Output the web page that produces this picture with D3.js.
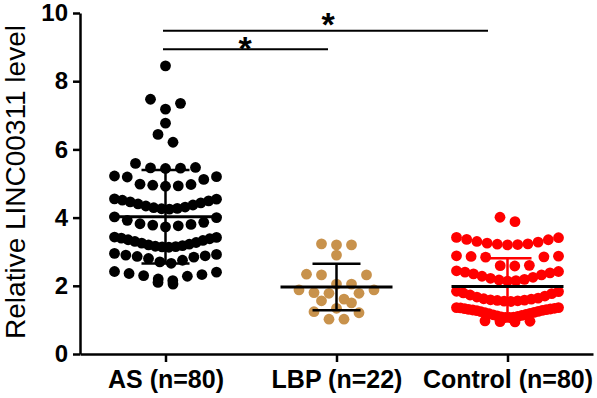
<!DOCTYPE html>
<html>
<head>
<meta charset="utf-8">
<script src="https://cdn.jsdelivr.net/npm/d3@7"></script>
<style>
  body { margin: 0; background: #fff; }
  svg { display: block; font-family: Arial, "Liberation Sans", sans-serif; }
</style>
</head>
<body>
<div id="chart"></div>
<script>
var groups = ["AS (n=80)", "LBP (n=22)", "Control (n=80)"];
var colors = ["#000000", "#c8924c", "#ff0000"];
var barColors = ["#000000", "#000000", "#ff0000"];
var yTicks = [0, 2, 4, 6, 8, 10];

var asValues = [8.45,
    7.47, 7.35, 7.18,
    6.77,
    6.44, 6.21,
    5.59, 5.47, 5.46, 5.45, 5.44,
    5.22, 5.20, 5.19, 5.12, 4.98, 4.97, 4.95, 4.93, 4.92,
    4.55, 4.54, 4.51, 4.49, 4.46, 4.43, 4.40, 4.37, 4.34, 4.31, 4.29, 4.27, 4.26, 4.25,
    4.02, 4.00, 3.92, 3.86, 3.82, 3.80, 3.78, 3.76, 3.73,
    3.43, 3.42, 3.40, 3.38, 3.35, 3.33, 3.30, 3.27, 3.25, 3.22, 3.20, 3.18, 3.16, 3.15, 3.14, 3.13,
    2.95, 2.92, 2.90, 2.88, 2.86, 2.84, 2.80, 2.75, 2.70, 2.66,
    2.42, 2.40, 2.36, 2.33, 2.30, 2.28, 2.20, 2.15, 2.10, 2.05];

var lbpValues = [3.23, 3.20, 3.20, 2.90, 2.34, 2.32, 2.32, 2.05, 2.05,
    1.88, 1.88, 1.80, 1.78, 1.78, 1.61, 1.56, 1.50, 1.34, 1.24, 1.21, 1.02, 1.02];

var controlValues = [4.01, 3.88,
    3.42, 3.41, 3.36, 3.35, 3.30, 3.28, 3.25, 3.23, 3.22, 3.21, 3.20,
    2.88, 2.87, 2.86, 2.85, 2.84, 2.60, 2.59, 2.58,
    2.44, 2.42, 2.40, 2.38, 2.35, 2.32, 2.28, 2.25, 2.22, 2.19, 2.17, 2.15, 2.14,
    1.84, 1.83, 1.79, 1.77, 1.73, 1.70, 1.67, 1.64, 1.62, 1.61, 1.59, 1.58, 1.57, 1.56, 1.55, 1.54,
    1.36, 1.36, 1.35, 1.34, 1.33, 1.32, 1.31, 1.30, 1.29, 1.28, 1.27, 1.25, 1.24,
    1.22, 1.21, 1.19, 1.18, 1.16, 1.15, 1.13, 1.12, 1.10, 1.09, 1.08, 1.07, 1.07,
    0.97, 0.96, 0.95, 0.94];

var allValues = [asValues, lbpValues, controlValues];

var width = 597, height = 398;
var plotLeft = 80, plotRight = 593, plotTop = 13, plotBottom = 354;

var svg = d3.select("#chart").append("svg")
    .attr("width", width)
    .attr("height", height);

var x = d3.scalePoint().domain(groups).range([plotLeft, plotRight]).padding(0.5);
var y = d3.scaleLinear().domain([0, 10]).range([plotBottom, plotTop]);

// GraphPad style scatter: values that fall within about one dot height share a row,
// lowest in the middle, spread out left/right
function swarm(vals, cx) {
    var sorted = vals.slice().sort(function (a, b) { return b - a; });
    var bins = [], cur = null;
    sorted.forEach(function (v) {
        if (cur && v >= cur.start - 0.305) {
            cur.vals.push(v);
        } else {
            cur = {start: v, vals: [v]};
            bins.push(cur);
        }
    });
    var pts = [];
    bins.forEach(function (b) {
        var vs = b.vals.slice().sort(function (a, c) { return a - c; });
        var n = vs.length;
        var s = n > 1 ? Math.min(15, 102 / (n - 1)) : 0;
        vs.forEach(function (v, i) {
            var off;
            if (n % 2 === 1) {
                var k = Math.ceil(i / 2);
                off = (i % 2 === 1 ? 1 : -1) * k * s;
            } else {
                var k2 = Math.floor(i / 2) + 0.5;
                off = (i % 2 === 0 ? 1 : -1) * k2 * s;
            }
            pts.push({x: cx + off, v: v});
        });
    });
    return pts;
}

allValues.forEach(function (vals, gi) {
    var cx = x(groups[gi]);
    svg.append("g")
        .selectAll("circle")
        .data(swarm(vals, cx))
        .enter().append("circle")
        .attr("cx", function (d) { return d.x; })
        .attr("cy", function (d) { return y(d.v); })
        .attr("r", 5.4)
        .attr("fill", colors[gi]);
});

// mean and SD
allValues.forEach(function (vals, gi) {
    var cx = x(groups[gi]);
    var m = d3.mean(vals), sd = d3.deviation(vals);
    var g = svg.append("g").attr("stroke-linecap", "butt");
    g.append("line")
        .attr("x1", cx).attr("x2", cx)
        .attr("y1", y(m + sd)).attr("y2", y(m - sd))
        .attr("stroke", barColors[gi]).attr("stroke-width", 2.5);
    [m + sd, m - sd].forEach(function (v) {
        g.append("line")
            .attr("x1", cx - 24).attr("x2", cx + 24)
            .attr("y1", y(v)).attr("y2", y(v))
            .attr("stroke", barColors[gi]).attr("stroke-width", 2.5);
    });
    g.append("line")
        .attr("x1", cx - 56).attr("x2", cx + 56)
        .attr("y1", y(m)).attr("y2", y(m))
        .attr("stroke", "#000").attr("stroke-width", 3);
});

// axes
var yAxis = svg.append("g")
    .attr("transform", "translate(" + plotLeft + ",0)")
    .call(d3.axisLeft(y).tickValues(yTicks).tickSize(7).tickSizeOuter(0).tickPadding(5));
var xAxis = svg.append("g")
    .attr("transform", "translate(0," + plotBottom + ")")
    .call(d3.axisBottom(x).tickSize(8).tickSizeOuter(0).tickPadding(8));

[yAxis, xAxis].forEach(function (ax) {
    ax.select(".domain").attr("stroke", "#000").attr("stroke-width", 2.5);
    ax.selectAll(".tick line").attr("stroke", "#000").attr("stroke-width", 2.5);
    ax.selectAll(".tick text").attr("fill", "#000").style("font-weight", "bold")
        .style("font-family", "Arial, 'Liberation Sans', sans-serif");
});
yAxis.selectAll(".tick text").style("font-size", "24px");
xAxis.selectAll(".tick text").style("font-size", "25px");

svg.append("text")
    .attr("transform", "translate(25,182) rotate(-90)")
    .attr("text-anchor", "middle")
    .style("font-size", "28px")
    .text("Relative LINC00311 level");

// significance
var sig = [
    {to: 2, y: 30.7, tx: 328, ty: 36},
    {to: 1, y: 49.3, tx: 245, ty: 60}
];
sig.forEach(function (s) {
    svg.append("line")
        .attr("x1", 163).attr("x2", s.to === 2 ? 488 : 328)
        .attr("y1", s.y).attr("y2", s.y)
        .attr("stroke", "#000").attr("stroke-width", 2);
    svg.append("text")
        .attr("x", s.tx).attr("y", s.ty)
        .attr("text-anchor", "middle")
        .style("font-size", "34px").style("font-weight", "bold")
        .text("*");
});
</script>
</body>
</html>
